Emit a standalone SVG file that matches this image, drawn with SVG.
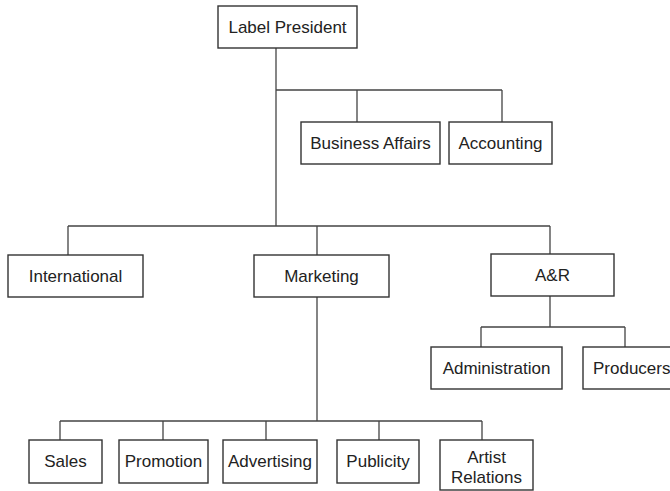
<svg xmlns="http://www.w3.org/2000/svg" width="670" height="491" viewBox="0 0 670 491">
<style>
.box{fill:#fff;stroke:#333;stroke-width:1.4}
.t{font-family:"Liberation Sans",Arial,sans-serif;font-size:17px;fill:#222;text-anchor:middle}
.c{fill:none;stroke:#444;stroke-width:1.3}
</style>
<rect width="670" height="491" fill="#fff"/>
<g id="connectors" class="c">
<path d="M276,48 V226"/>
<path d="M276,90 H502 M357,90 V122 M502,90 V122"/>
<path d="M68,226 H550 M68,226 V255 M317,226 V255 M550,226 V254"/>
<path d="M317,297 V421 M60,421 H482 M60,421 V440 M163,421 V440 M266,421 V440 M379,421 V440 M482,421 V440"/>
<path d="M550,296 V327 M481,327 H625 M481,327 V347 M625,327 V347"/>
</g>
<g id="president"><rect class="box" x="218" y="6" width="139" height="42"/><text class="t" x="287.5" y="33">Label President</text></g>
<g id="business-affairs"><rect class="box" x="301" y="122" width="139" height="42"/><text class="t" x="370.5" y="149">Business Affairs</text></g>
<g id="accounting"><rect class="box" x="449" y="122" width="103" height="42"/><text class="t" x="500.5" y="149">Accounting</text></g>
<g id="international"><rect class="box" x="8" y="255" width="135" height="42"/><text class="t" x="75.5" y="282">International</text></g>
<g id="marketing"><rect class="box" x="254" y="255" width="135" height="42"/><text class="t" x="321.5" y="282">Marketing</text></g>
<g id="ar"><rect class="box" x="491" y="254" width="123" height="42"/><text class="t" x="552.5" y="281">A&amp;R</text></g>
<g id="administration"><rect class="box" x="431" y="347" width="131" height="42"/><text class="t" x="496.5" y="374">Administration</text></g>
<g id="producers"><rect class="box" x="583" y="347" width="100" height="42"/><text class="t" x="593" y="374" style="text-anchor:start">Producers</text></g>
<g id="sales"><rect class="box" x="29" y="440" width="73" height="43"/><text class="t" x="65.5" y="467">Sales</text></g>
<g id="promotion"><rect class="box" x="119" y="440" width="89" height="43"/><text class="t" x="163.5" y="467">Promotion</text></g>
<g id="advertising"><rect class="box" x="223" y="440" width="94" height="43"/><text class="t" x="270" y="467">Advertising</text></g>
<g id="publicity"><rect class="box" x="337" y="440" width="82" height="43"/><text class="t" x="378" y="467">Publicity</text></g>
<g id="artist-relations"><rect class="box" x="440" y="440" width="93" height="50"/><text class="t" x="486.5" y="463">Artist</text><text class="t" x="486.5" y="483">Relations</text></g>
</svg>
